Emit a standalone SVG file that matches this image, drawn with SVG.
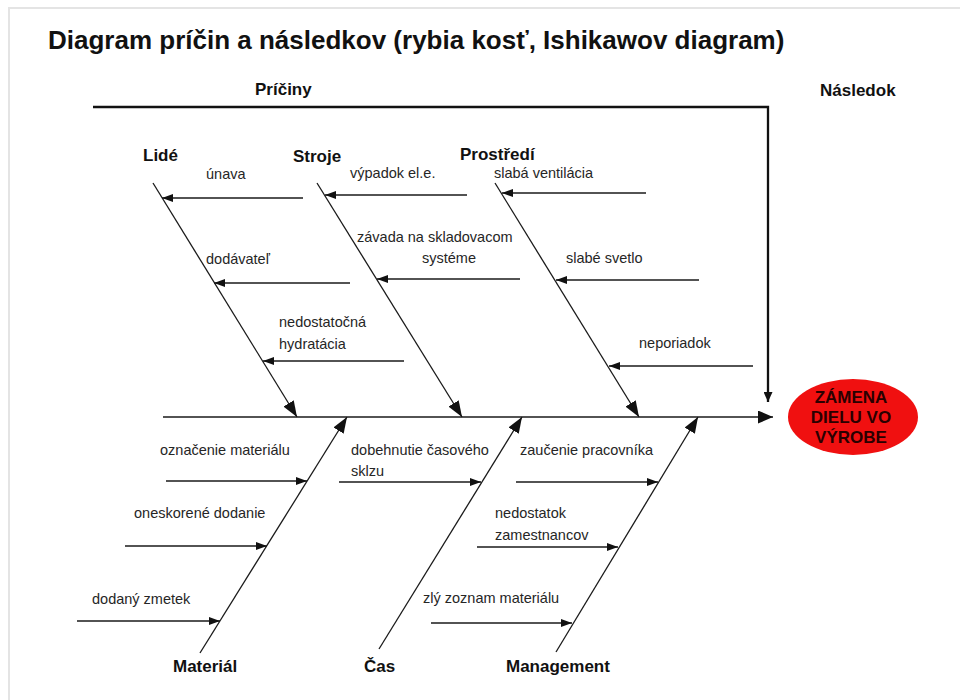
<svg xmlns="http://www.w3.org/2000/svg" width="960" height="700" viewBox="0 0 960 700">
  <style>
    .title { font-family: "Liberation Sans", Arial, sans-serif; font-weight: bold; font-size: 26px; fill: #111; }
    .head { font-family: "Liberation Sans", Arial, sans-serif; font-weight: bold; font-size: 17px; fill: #111; }
    .cause { font-family: "Liberation Sans", Arial, sans-serif; font-size: 14.5px; fill: #262626; }
    .effect { font-family: "Liberation Sans", Arial, sans-serif; font-weight: bold; font-size: 17px; fill: #2a0000; text-anchor: middle; }
    .bone { stroke: #1a1a1a; stroke-width: 1.3; fill: none; marker-end: url(#boneHead); }
    .sub { stroke: #1a1a1a; stroke-width: 1.3; fill: none; marker-end: url(#subHead); }
    .frame { stroke: #e4e4e4; stroke-width: 2; fill: none; }
  </style>
  <defs>
    <marker id="boneHead" markerUnits="userSpaceOnUse" markerWidth="16" markerHeight="12" refX="16" refY="6" orient="auto">
      <path d="M0,0 L16,6 L0,12 z" fill="#111"/>
    </marker>
    <marker id="subHead" markerUnits="userSpaceOnUse" markerWidth="11" markerHeight="8" refX="11" refY="4" orient="auto">
      <path d="M0,0 L11,4 L0,8 z" fill="#111"/>
    </marker>
    <marker id="spineHead" markerUnits="userSpaceOnUse" markerWidth="15" markerHeight="13" refX="15" refY="6.5" orient="auto">
      <path d="M0,0 L15,6.5 L0,13 z" fill="#111"/>
    </marker>
    <marker id="dropHead" markerUnits="userSpaceOnUse" markerWidth="10" markerHeight="9" refX="10" refY="4.5" orient="auto">
      <path d="M0,0 L10,4.5 L0,9 z" fill="#111"/>
    </marker>
  </defs>

  <rect width="960" height="700" fill="#fff"/>
  <path class="frame" d="M9,700 V8 H960"/>

  <text class="title" x="48" y="49">Diagram príčin a následkov (rybia kosť, Ishikawov diagram)</text>
  <text class="head" x="255" y="95">Príčiny</text>
  <text class="head" x="820" y="96">Následok</text>

  <!-- connectors: spine, main bones and cause arrows -->
  <g id="connectors">
    <path d="M93,107 H768 V402" stroke="#111" stroke-width="2.3" fill="none" marker-end="url(#dropHead)"/>
    <line x1="163" y1="417" x2="773" y2="417" stroke="#1a1a1a" stroke-width="1.5" marker-end="url(#spineHead)"/>

    <line class="bone" x1="153" y1="183" x2="297" y2="417"/>
    <line class="bone" x1="317" y1="183" x2="462" y2="417"/>
    <line class="bone" x1="495" y1="183" x2="639" y2="417"/>
    <line class="bone" x1="200" y1="653" x2="347" y2="417"/>
    <line class="bone" x1="379" y1="649" x2="522" y2="417"/>
    <line class="bone" x1="556" y1="652" x2="698" y2="417"/>

    <line class="sub" x1="303" y1="198" x2="162" y2="198"/>
    <line class="sub" x1="350" y1="283" x2="214" y2="283"/>
    <line class="sub" x1="404" y1="361" x2="263" y2="361"/>
    <line class="sub" x1="467" y1="195" x2="325" y2="195"/>
    <line class="sub" x1="520" y1="279" x2="377" y2="279"/>
    <line class="sub" x1="646" y1="193" x2="502" y2="193"/>
    <line class="sub" x1="699" y1="280" x2="556" y2="280"/>
    <line class="sub" x1="753" y1="366" x2="609" y2="366"/>
    <line class="sub" x1="166" y1="481" x2="307" y2="481"/>
    <line class="sub" x1="125" y1="546" x2="267" y2="546"/>
    <line class="sub" x1="77" y1="621" x2="220" y2="621"/>
    <line class="sub" x1="339" y1="482" x2="481" y2="482"/>
    <line class="sub" x1="516" y1="482" x2="658" y2="482"/>
    <line class="sub" x1="477" y1="547" x2="618" y2="547"/>
    <line class="sub" x1="431" y1="623" x2="572" y2="623"/>
  </g>

  <g id="lide">
    <text class="head" x="143" y="161">Lidé</text>
    <text class="cause" x="206" y="179">únava</text>
    <text class="cause" x="206" y="264">dodávateľ</text>
    <text class="cause" x="279" y="327">nedostatočná</text>
    <text class="cause" x="279" y="349">hydratácia</text>
  </g>

  <g id="stroje">
    <text class="head" x="293" y="162">Stroje</text>
    <text class="cause" x="350" y="178">výpadok el.e.</text>
    <text class="cause" x="357" y="242">závada na skladovacom</text>
    <text class="cause" x="422" y="263">systéme</text>
  </g>

  <g id="prostredi">
    <text class="head" x="460" y="160">Prostředí</text>
    <text class="cause" x="494" y="178">slabá ventilácia</text>
    <text class="cause" x="566" y="263">slabé svetlo</text>
    <text class="cause" x="639" y="348">neporiadok</text>
  </g>

  <g id="material">
    <text class="head" x="173" y="672">Materiál</text>
    <text class="cause" x="160" y="455">označenie materiálu</text>
    <text class="cause" x="134" y="518">oneskorené dodanie</text>
    <text class="cause" x="92" y="604">dodaný zmetek</text>
  </g>

  <g id="cas">
    <text class="head" x="364" y="672">Čas</text>
    <text class="cause" x="351" y="455">dobehnutie časového</text>
    <text class="cause" x="351" y="476">sklzu</text>
  </g>

  <g id="management">
    <text class="head" x="506" y="672">Management</text>
    <text class="cause" x="520" y="455">zaučenie pracovníka</text>
    <text class="cause" x="495" y="518">nedostatok</text>
    <text class="cause" x="495" y="540">zamestnancov</text>
    <text class="cause" x="423" y="603">zlý zoznam materiálu</text>
  </g>

  <g id="nasledok">
    <ellipse cx="853" cy="417" rx="65" ry="38" fill="#f01010"/>
    <text class="effect" x="851" y="403">ZÁMENA</text>
    <text class="effect" x="851" y="423">DIELU VO</text>
    <text class="effect" x="851" y="443">VÝROBE</text>
  </g>
</svg>
